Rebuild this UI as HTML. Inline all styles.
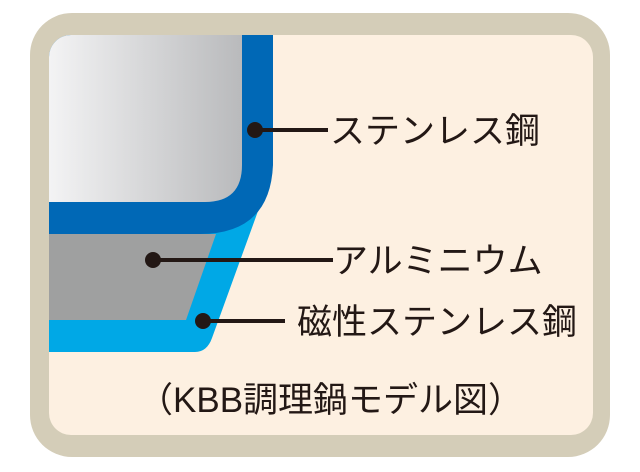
<!DOCTYPE html>
<html><head><meta charset="utf-8"><style>
html,body{margin:0;padding:0;background:#fff;}
svg{display:block}
text{font-family:"Liberation Sans","Noto Sans CJK JP",sans-serif;fill:#231815;font-size:35px;}
</style></head><body>
<svg width="640" height="472" viewBox="0 0 640 472" xmlns="http://www.w3.org/2000/svg">
<defs>
<linearGradient id="sg" x1="0" x2="1" y1="0" y2="0">
<stop offset="0" stop-color="#f6f6f7"/><stop offset="1" stop-color="#b9babc"/>
</linearGradient>
<clipPath id="cp"><rect x="49" y="35" width="544" height="400" rx="22"/></clipPath>
</defs>
<rect x="30" y="13" width="580" height="444" rx="42" fill="#d4cdb8"/>
<rect x="49" y="35" width="544" height="400" rx="22" fill="#fdf0e1"/>
<g clip-path="url(#cp)">
<!-- light blue -->
<path d="M40 200 L262 200 L212 338 Q207 352 195 352 L40 352 Z" fill="#00a8e6"/>
<!-- gray -->
<path d="M40 234 L216 234 L186 320 L40 320 Z" fill="#9fa0a0"/>
<!-- dark blue -->
<path d="M40 20 L273 20 L273 165 Q270 234 200 234 L40 234 Z" fill="#0068b6"/>
<!-- silver -->
<path d="M40 20 L242 20 L242 165 Q242 202 205 202 L40 202 Z" fill="url(#sg)"/>
</g>
<g stroke="#231815" stroke-width="4">
<line x1="255" y1="130" x2="328" y2="130"/>
<line x1="153" y1="260" x2="333" y2="260"/>
<line x1="203" y1="321" x2="285" y2="321"/>
</g>
<g fill="#231815">
<circle cx="255" cy="130" r="8"/><circle cx="153" cy="260" r="8"/><circle cx="203" cy="321" r="8"/>
</g>
<text x="330" y="143">ステンレス鋼</text>
<text x="333" y="273">アルミニウム</text>
<text x="297" y="334">磁性ステンレス鋼</text>
<text x="138" y="412">（KBB調理鍋モデル図）</text>
</svg>
</body></html>
